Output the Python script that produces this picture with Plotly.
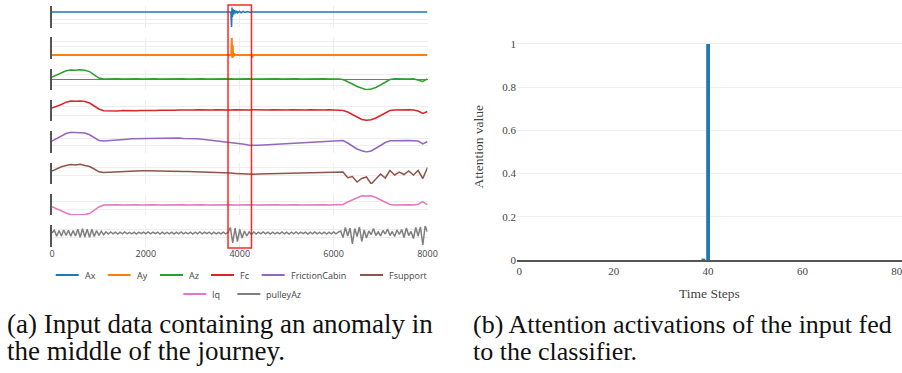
import plotly.graph_objects as go

W, H = 902, 373

# ---------------- data ----------------
signal_names = ["Ax", "Ay", "Az", "Fc", "FrictionCabin", "Fsupport", "Iq", "pulleyAz"]
signal_colors = ["#1f77b4", "#ff7f0e", "#2ca02c", "#d62728",
                 "#9467bd", "#8c564b", "#e377c2", "#7f7f7f"]

time_grid = list(range(0, 8001, 100))
time_grid_fine = list(range(0, 8001, 50))

ax_time = [0, 3810, 3825, 3835, 3845, 3855, 3870, 3890, 3910, 3935,
           3960, 3990, 4030, 4070, 4110, 4160, 4210, 4260, 8000]
ax_values = [0, 0, -1.5, 0.45, -0.5, 0.3, -0.25, 0.18, -0.14, 0.12,
             -0.1, 0.08, -0.07, 0.06, -0.05, 0.04, -0.03, 0, 0]

ay_time = [0, 3820, 3830, 3840, 3850, 3860, 3880, 3900, 4260, 4270, 4280, 8000]
ay_values = [0, 0, 1.7, -0.3, 1.0, -0.2, 0.15, 0, 0, -0.25, 0, 0]

az_values = [
    0.2, 0.4, 0.6, 0.82, 0.9, 0.87, 0.92, 0.88, 0.74, 0.45,
    0.1, 0.0, 0.03, 0.0, 0.02, 0.0, 0.03, 0.01, 0.03, 0.0,
    0.02, 0.0, 0.03, 0.0, 0.02, 0.0, 0.03, 0.01, 0.03, 0.0,
    0.02, 0.0, 0.03, 0.0, 0.02, 0.0, 0.03, 0.01, 0.03, 0.0,
    0.02, 0.0, 0.03, 0.0, 0.02, 0.0, 0.03, 0.01, 0.03, 0.0,
    0.02, 0.0, 0.03, 0.0, 0.02, 0.0, 0.03, 0.01, 0.03, 0.0,
    0.02, 0.0, -0.06, -0.25, -0.5, -0.75, -0.95, -1.08, -1.0, -0.85,
    -0.6, -0.3, -0.05, 0.02, 0.0, 0.03, 0.0, 0.02, -0.08, -0.25,
    0.02]

fc_values = [
    0.3, 0.45, 0.65, 0.88, 1.0, 0.97, 1.0, 0.95, 0.8, 0.5,
    0.2, 0.02, 0.0, 0.03, 0.01, 0.04, 0.02, 0.05, 0.03, 0.06,
    0.04, 0.07, 0.05, 0.08, 0.06, 0.09, 0.07, 0.1, 0.08, 0.11,
    0.09, 0.12, 0.1, 0.12, 0.1, 0.13, 0.1, 0.12, 0.1, 0.13,
    0.1, 0.12, 0.1, 0.13, 0.1, 0.12, 0.1, 0.13, 0.1, 0.12,
    0.1, 0.13, 0.1, 0.12, 0.1, 0.13, 0.1, 0.12, 0.1, 0.13,
    0.1, 0.12, 0.05, -0.1, -0.35, -0.6, -0.85, -0.92, -0.88, -0.7,
    -0.45, -0.2, 0.05, 0.1, 0.12, 0.1, 0.12, 0.1, 0.0, -0.25,
    -0.05]

friction_cabin_values = [
    0.0, 0.25, 0.5, 0.75, 0.87, 0.85, 0.88, 0.8, 0.62, 0.35,
    0.05, 0.0, 0.05, 0.1, 0.12, 0.17, 0.18, 0.22, 0.23, 0.27,
    0.26, 0.29, 0.27, 0.3, 0.27, 0.29, 0.27, 0.29, 0.26, 0.27,
    0.24, 0.22, 0.17, 0.12, 0.07, 0.02, -0.04, -0.1, -0.15, -0.2,
    -0.27, -0.33, -0.42, -0.45, -0.42, -0.39, -0.36, -0.33, -0.3, -0.27,
    -0.24, -0.21, -0.18, -0.15, -0.12, -0.09, -0.06, -0.03, 0.0, 0.03,
    0.06, 0.09, 0.05, -0.2, -0.5, -0.8, -0.97, -1.1, -1.0, -0.75,
    -0.45, -0.15, 0.03, 0.03, 0.05, 0.02, 0.04, 0.03, 0.0, -0.3,
    -0.05]

fsupport_values = [
    0.0, 0.25, 0.42, 0.55, 0.65, 0.6, 0.67, 0.55, 0.45, 0.2,
    -0.08, -0.15, -0.12, -0.1, -0.08, -0.05, -0.03, -0.02, 0.0, 0.02,
    0.03, 0.03, 0.02, 0.01, 0.0, -0.01, -0.02, -0.03, -0.04, -0.05,
    -0.06, -0.07, -0.08, -0.1, -0.12, -0.14, -0.16, -0.18, -0.21, -0.24,
    -0.27, -0.3, -0.33, -0.32, -0.3, -0.29, -0.28, -0.26, -0.25, -0.24,
    -0.22, -0.21, -0.2, -0.18, -0.17, -0.15, -0.14, -0.12, -0.11, -0.1,
    -0.08, -0.07, -0.1, -0.67, -0.55, -1.1, -0.75, -0.6, -1.3, -0.8,
    -0.3, -0.7, 0.05, -0.4, -0.1, -0.35, 0.0, -0.4, 0.05, -0.75,
    0.35]

iq_values = [
    -0.17, -0.4, -0.6, -0.8, -0.97, -0.95, -1.0, -0.96, -0.85, -0.55,
    -0.2, 0.0, 0.03, 0.0, 0.02, 0.0, 0.03, 0.01, 0.03, 0.0,
    0.02, 0.0, 0.03, 0.0, 0.02, 0.0, 0.03, 0.01, 0.03, 0.0,
    0.02, 0.0, 0.03, 0.0, 0.02, 0.0, 0.03, 0.01, 0.03, 0.0,
    0.02, 0.0, 0.03, 0.0, 0.02, 0.0, 0.03, 0.01, 0.03, 0.0,
    0.02, 0.0, 0.03, 0.0, 0.02, 0.0, 0.03, 0.01, 0.03, 0.0,
    0.02, 0.0, 0.05, 0.3, 0.52, 0.72, 0.92, 0.9, 0.93, 0.75,
    0.52, 0.3, 0.05, 0.0, 0.02, 0.0, 0.02, 0.0, 0.08, 0.33,
    0.02]

pulley_az_values = [
    0.0, 0.28, -0.32, 0.25, -0.3, 0.3, -0.25, 0.28, -0.32, 0.25,
    -0.3, 0.38, -0.42, 0.42, -0.4, 0.38, -0.42, 0.38, -0.35, 0.25,
    -0.25, 0.18, -0.18, 0.12, -0.1, 0.1, -0.08, 0.08, -0.1, 0.08,
    -0.08, 0.1, -0.08, 0.06, -0.08, 0.08, -0.1, 0.08, -0.06, 0.08,
    -0.08, 0.1, -0.08, 0.08, -0.06, 0.08, -0.1, 0.08, -0.08, 0.06,
    -0.08, 0.08, -0.1, 0.08, -0.08, 0.1, -0.08, 0.06, -0.08, 0.08,
    -0.1, 0.08, -0.08, 0.1, -0.08, 0.08, -0.06, 0.08, -0.1, 0.08,
    -0.08, 0.06, -0.08, 0.08, -0.08, 0.05, 0.55, -1.0, 0.5, -0.85,
    0.35, -0.5, 0.2, -0.3, 0.12, -0.15, 0.1, -0.1, 0.08, -0.08,
    0.1, -0.08, 0.08, -0.1, 0.08, -0.08, 0.06, -0.08, 0.1, -0.08,
    0.08, -0.1, 0.08, -0.08, 0.1, -0.08, 0.08, -0.06, 0.08, -0.1,
    0.08, -0.08, 0.1, -0.08, 0.06, -0.08, 0.08, -0.1, 0.08, -0.08,
    0.1, -0.08, 0.08, 0.2, -0.45, 0.55, -0.3, 0.5, -1.1, 0.45,
    -0.35, 0.6, -0.85, 0.3, -0.5, 0.2, -0.15, 0.45, -0.25, 0.12,
    -0.3, 0.25, -0.1, 0.4, -0.25, 0.15, -0.35, 0.3, -0.15, 0.35,
    -0.45, 0.5, -0.25, 0.15, -0.55, 0.55, -0.3, 0.6, -1.2, 0.7,
    0.1]

anomaly_window = [3750, 4250]

attention_steps = list(range(80))
attention_values = [
    0, 0, 0, 0, 0, 0, 0, 0, 0, 0,
    0, 0, 0, 0, 0, 0, 0, 0, 0, 0,
    0, 0, 0, 0, 0, 0, 0, 0, 0, 0,
    0, 0, 0, 0, 0, 0, 0, 0, 0, 0.004,
    1.0, 0, 0, 0, 0, 0, 0, 0, 0, 0,
    0, 0, 0, 0, 0, 0, 0, 0, 0, 0,
    0, 0, 0, 0, 0, 0, 0, 0, 0, 0,
    0, 0, 0, 0, 0, 0, 0, 0, 0, 0]

left_xticks = [0, 2000, 4000, 6000, 8000]
right_xticks = [0, 20, 40, 60, 80]
right_yticks = [0, 0.2, 0.4, 0.6, 0.8, 1.0]
right_yticktext = ["0", "0.2", "0.4", "0.6", "0.8", "1"]

caption_a = ["(a) Input data containing an anomaly in", "the middle of the journey."]
caption_b = ["(b) Attention activations of the input fed", "to the classifier."]

# ---------------- layout helpers ----------------
def fx(p):
    return p / W


def fy(p):
    return 1 - p / H


series_x = [ax_time, ay_time, time_grid, time_grid, time_grid,
            time_grid, time_grid, time_grid_fine]
series_y = [ax_values, ay_values, az_values, fc_values, friction_cabin_values,
            fsupport_values, iq_values, pulley_az_values]

row_tops = [6, 37.3, 68.6, 99.9, 131.2, 162.5, 193.8, 225.1]
row_h = 21.5
row_refs = [12, 55, 79, 111, 141, 171, 205, 233]
row_grid = [[-0.73, -1.13], [1.33, 0.83], [0.5, -0.6], [0.43, -0.4],
            [0.27, -0.4], [0.4, -0.4], [0.4, -0.4], [0.4, -0.4]]
left_x0, left_x1 = 52, 427.5

SANS = "Open Sans, verdana, arial, sans-serif"
SERIF = "Liberation Serif, Times New Roman, serif"

fig = go.Figure()
layout = dict(
    width=W, height=H, template="none",
    margin=dict(l=0, r=0, t=0, b=0),
    paper_bgcolor="white", plot_bgcolor="white",
    showlegend=False,
    font=dict(family=SANS, size=9, color="#444"),
)

for i in range(8):
    n = i + 1
    xa = "xaxis" if n == 1 else f"xaxis{n}"
    ya = "yaxis" if n == 1 else f"yaxis{n}"
    xr = "x" if n == 1 else f"x{n}"
    yr = "y" if n == 1 else f"y{n}"
    top = row_tops[i]
    bot = top + row_h
    ref = row_refs[i]
    fig.add_trace(go.Scatter(
        x=series_x[i], y=series_y[i], mode="lines", name=signal_names[i],
        line=dict(color=signal_colors[i], width=1.5 if i != 1 else 2),
        xaxis=xr, yaxis=yr, hoverinfo="skip"))
    last = (n == 8)
    layout[xa] = dict(
        domain=[fx(left_x0), fx(left_x1)], anchor=yr, range=[0, 8000],
        tickvals=left_xticks if last else [2000, 4000, 6000],
        showticklabels=last, showgrid=True, gridcolor="#eee", gridwidth=1,
        zeroline=False, showline=False, ticks="",
        tickfont=dict(family=SANS, size=9, color="#444"),
        ticklabeloverflow="allow",
        matches=None if n == 1 else "x")
    layout[ya] = dict(
        domain=[fy(bot), fy(top)], anchor=xr,
        range=[(ref - bot) / 10, (ref - top) / 10],
        tickvals=row_grid[i], showticklabels=False, ticks="",
        showgrid=True, gridcolor="#eee", gridwidth=1,
        zeroline=(n == 3), zerolinecolor="#777", zerolinewidth=1,
        showline=True, linecolor="#555", linewidth=1.5)

# attention bars (right panel)
fig.add_trace(go.Bar(
    x=attention_steps, y=attention_values, marker=dict(color="#1f77b4", line=dict(width=0)),
    width=0.8, xaxis="x9", yaxis="y9", hoverinfo="skip", name="attention"))

y_bot, y_top = 260, 32.6
layout["xaxis9"] = dict(
    domain=[fx(517), 1.0], anchor="y9", range=[-0.5, 81.1],
    tickvals=right_xticks, showgrid=False, zeroline=False,
    showline=True, linecolor="#555", linewidth=1.5, ticks="",
    ticklabeloverflow="allow",
    tickfont=dict(family=SERIF, size=11, color="#444"))
layout["yaxis9"] = dict(
    domain=[fy(y_bot), fy(y_top)], anchor="x9", range=[0, 1.0526],
    tickvals=right_yticks, ticktext=right_yticktext,
    showgrid=True, gridcolor="#eee", zeroline=False, showline=False, ticks="",
    tickfont=dict(family=SERIF, size=11, color="#444"))

shapes = [dict(type="rect", xref="x8", yref="paper",
               x0=anomaly_window[0], x1=anomaly_window[1],
               y0=fy(248), y1=fy(5),
               line=dict(color="rgba(255,0,0,0.85)", width=1.5),
               fillcolor="rgba(0,0,0,0)", layer="above")]

annotations = []
# custom legend below left panel
legend_pos = [(55.7, 275), (107.7, 275), (160, 275), (211, 275),
              (261.7, 275), (360, 275), (183.3, 294), (237.3, 294)]
for name, color, (lx, ly) in zip(signal_names, signal_colors, legend_pos):
    shapes.append(dict(type="line", xref="paper", yref="paper",
                       x0=fx(lx), x1=fx(lx + 23), y0=fy(ly), y1=fy(ly),
                       line=dict(color=color, width=2)))
    annotations.append(dict(text=name, xref="paper", yref="paper",
                            x=fx(lx + 27), y=fy(ly), xanchor="left", yanchor="middle",
                            showarrow=False, font=dict(family=SANS, size=9, color="#444")))

# axis titles of right panel
annotations.append(dict(text="Attention value", xref="paper", yref="paper",
                        x=fx(478), y=fy(146.5), textangle=-90,
                        xanchor="center", yanchor="middle", showarrow=False,
                        font=dict(family=SERIF, size=13.5, color="#444")))
annotations.append(dict(text="Time Steps", xref="paper", yref="paper",
                        x=fx(709), y=fy(293), xanchor="center", yanchor="middle",
                        showarrow=False, font=dict(family=SERIF, size=13.5, color="#444")))

# captions
for lines, x0, fsize in ((caption_a, 5, 27), (caption_b, 471, 26)):
    for k, txt in enumerate(lines):
        annotations.append(dict(text=txt, xref="paper", yref="paper",
                                x=fx(x0), y=fy(324 + 27 * k), xanchor="left", yanchor="middle",
                                showarrow=False,
                                font=dict(family=SERIF, size=fsize, color="#111")))

layout["shapes"] = shapes
layout["annotations"] = annotations
fig.update_layout(**layout)
fig.write_html("out.html")
